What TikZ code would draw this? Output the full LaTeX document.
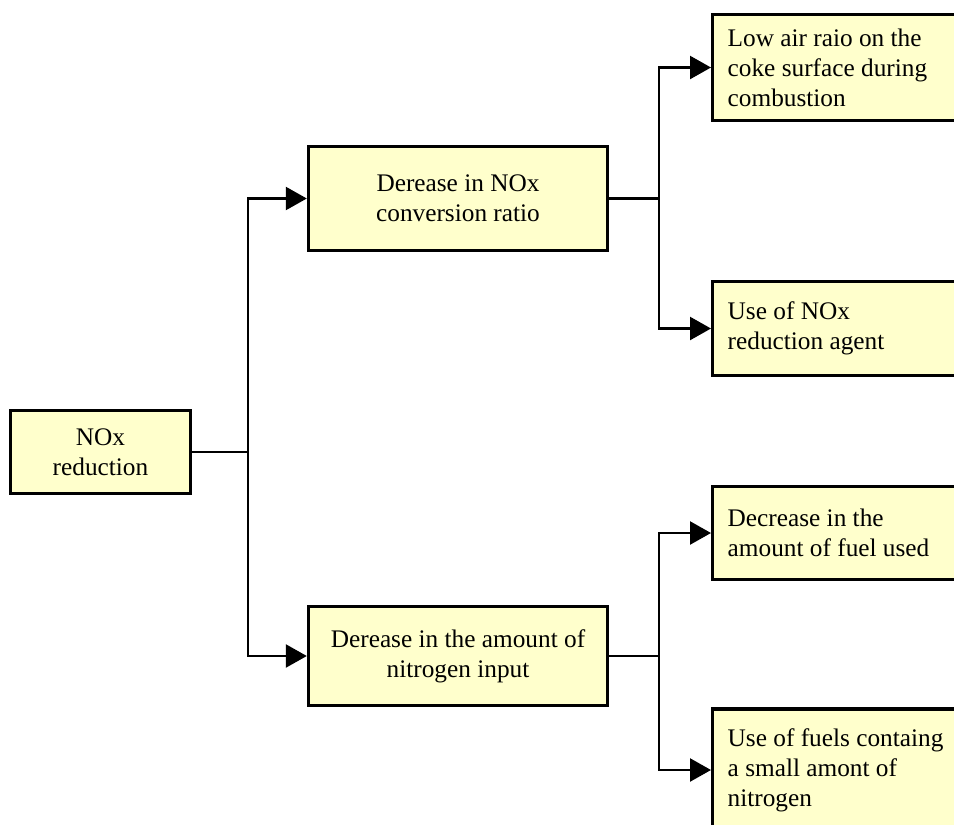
\documentclass[tikz,border=0pt]{standalone}
\usepackage{fontspec}
\setmainfont{Liberation Serif}
\usetikzlibrary{arrows.meta}
\definecolor{boxfill}{RGB}{255,255,204}
\tikzset{
  box/.style={draw=black, line width=3.4pt, fill=boxfill, rectangle, inner sep=0pt,
    font=\fontsize{25.3}{30}\selectfont},
  cbox/.style={box, align=center},
  rbox/.style={box, anchor=west, text width=250pt, inner xsep=15pt, align=flush left},
  conn/.style={draw=black, line width=2.4pt, -{Triangle[length=21pt,width=23pt]}},
  plain/.style={draw=black, line width=2.4pt}
}
\begin{document}
\begin{tikzpicture}[x=1pt,y=-1pt]
\useasboundingbox (0,0) rectangle (954,825);
\clip (0,0) rectangle (954,825);
\node[cbox, minimum width=180pt, minimum height=83pt] (root) at (100.5,452) {NOx\\reduction};
\node[cbox, minimum width=299pt, minimum height=104pt] (b1) at (458,198.5) {Derease in NOx\\conversion ratio};
\node[cbox, minimum width=299pt, minimum height=99pt] (b2) at (458,656) {Derease in the amount of\\nitrogen input};
\node[rbox, minimum height=106pt] (r1) at (711,67.5) {Low air raio on the\\coke surface during\\combustion};
\node[rbox, minimum height=94pt] (r2) at (711,328.5) {Use of NOx\\reduction agent};
\node[rbox, minimum height=93pt] (r3) at (711,533) {Decrease in the\\amount of fuel used};
\node[rbox, minimum height=122pt] (r4) at (711,770) {Use of fuels containg\\a small amont of\\nitrogen};
\coordinate (j1) at (248,452);
\coordinate (j2) at (659,198.5);
\coordinate (j3) at (659,656);
\draw[plain] (root.east) -- (j1);
\draw[conn] (j1) |- (b1.west);
\draw[conn] (j1) |- (b2.west);
\draw[plain] (b1.east) -- (j2);
\draw[conn] (j2) |- (r1.west);
\draw[conn] (j2) |- (r2.west);
\draw[plain] (b2.east) -- (j3);
\draw[conn] (j3) |- (r3.west);
\draw[conn] (j3) |- (r4.west);
\end{tikzpicture}
\end{document}
